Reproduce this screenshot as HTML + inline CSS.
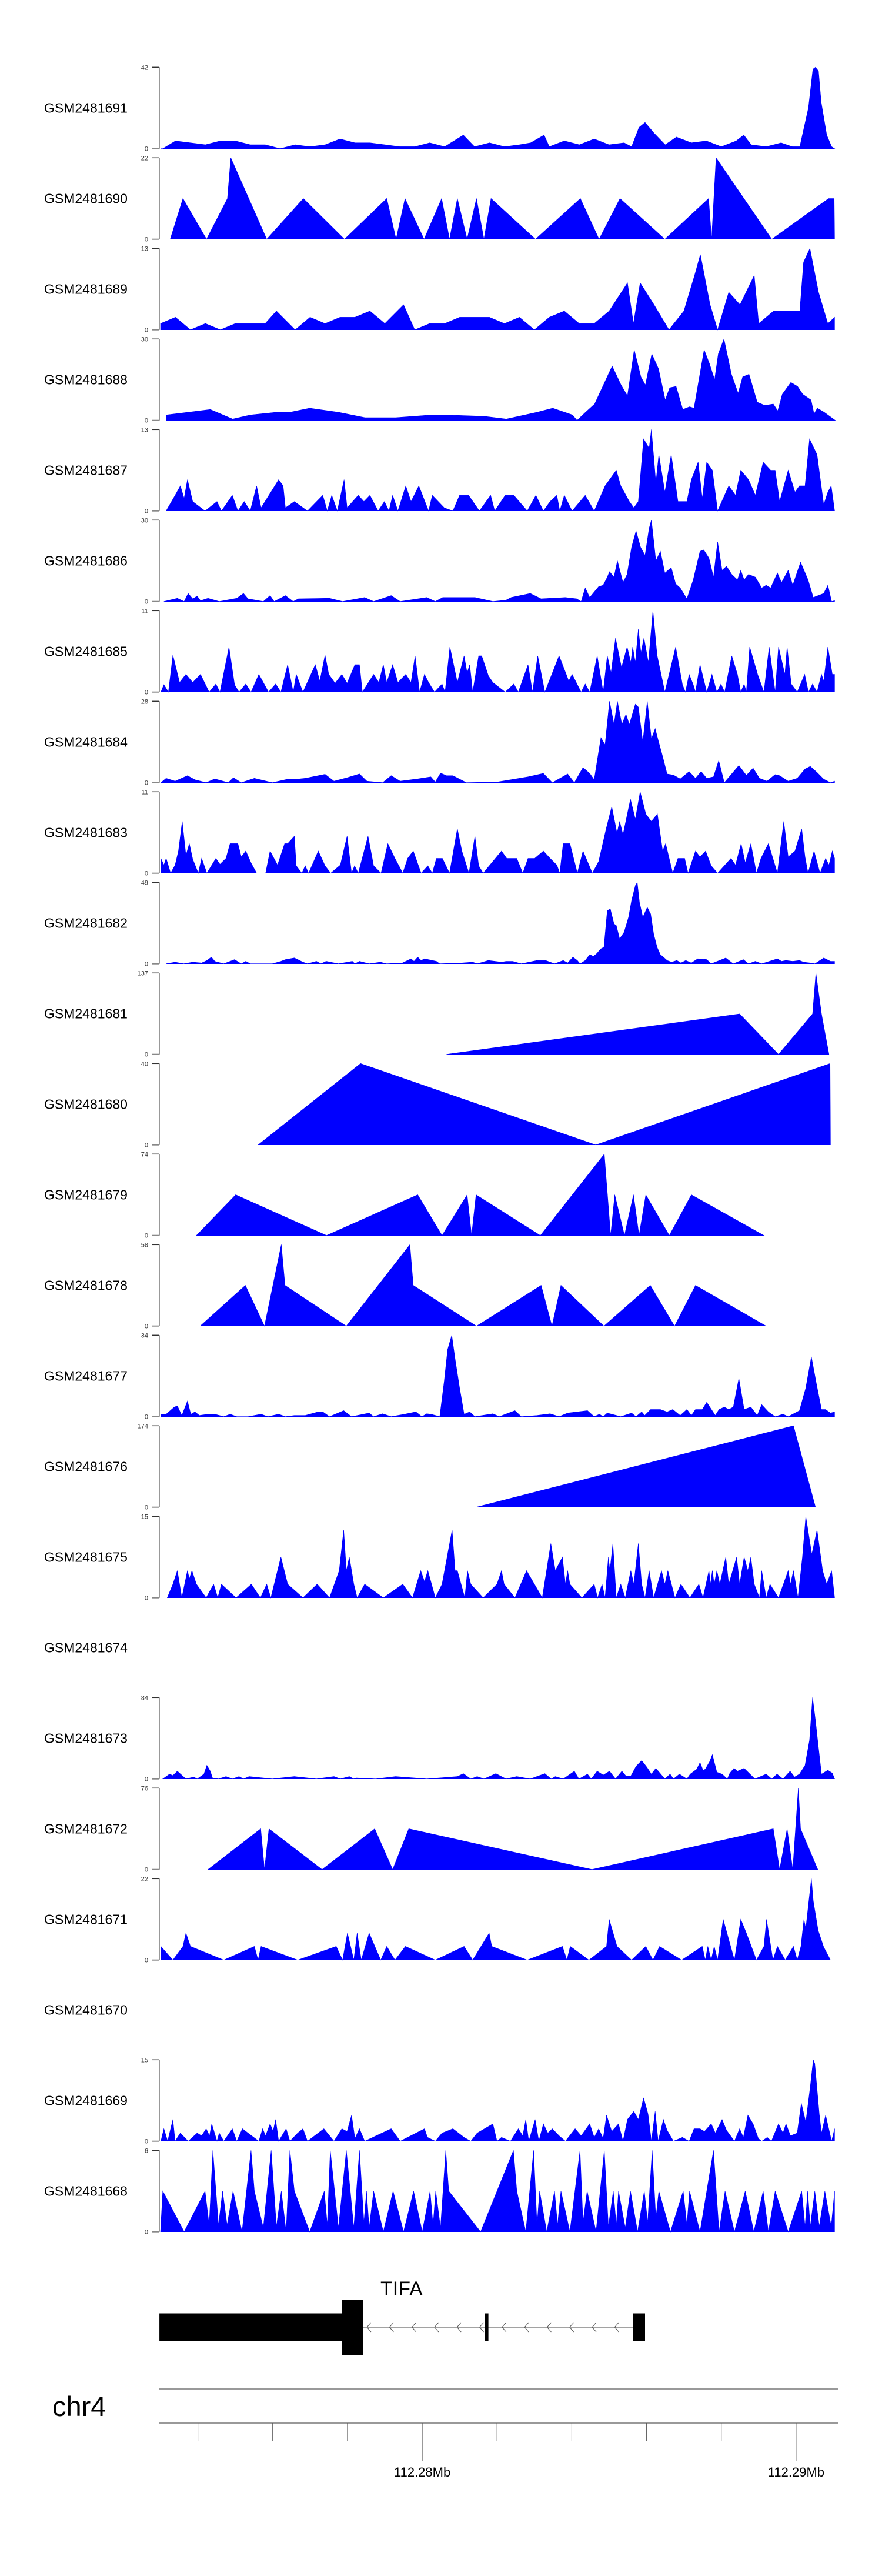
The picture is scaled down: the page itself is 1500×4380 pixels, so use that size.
<!DOCTYPE html>
<html>
<head>
<meta charset="utf-8">
<style>
html,body{margin:0;padding:0;background:#fff;}
svg{display:block;font-family:"Liberation Sans",Arial,sans-serif;}
</style>
</head>
<body>
<svg id="chart" width="1500" height="4380" viewBox="0 0 1500 4380" xmlns="http://www.w3.org/2000/svg">
<rect x="0" y="0" width="1500" height="4380" fill="#ffffff"/>
<g id="tracks"></g>
<g id="gene"></g>
<g id="ruler"></g>
</svg>
<script>
// ---- chart data (positions in kb from region start 112,273.0 kb) ----
const samples = ["GSM2481691","GSM2481690","GSM2481689","GSM2481688","GSM2481687","GSM2481686","GSM2481685","GSM2481684","GSM2481683","GSM2481682","GSM2481681","GSM2481680","GSM2481679","GSM2481678","GSM2481677","GSM2481676","GSM2481675","GSM2481674","GSM2481673","GSM2481672","GSM2481671","GSM2481670","GSM2481669","GSM2481668"];
const yMax = [42,22,13,30,13,30,11,28,11,49,137,40,74,58,34,174,15,null,84,76,22,null,15,6];
const regionStartKb = 112273.0;
const regionEndKb = 112291.04;
const axisTicksKb = [112274,112276,112278,112280,112282,112284,112286,112288,112290];
const axisLabels = ["112.28Mb","112.29Mb"];
const axisLabelKb = [112280,112290];

const pos1691=[0,0.06,0.4,0.8,1.2,1.6,2.0,2.4,2.8,3.2,3.6,4.0,4.4,4.8,5.2,5.6,6.0,6.4,6.8,7.2,7.6,8.1,8.4,8.8,9.2,9.6,9.9,10.26,10.4,10.8,11.2,11.6,12.0,12.4,12.6,12.8,12.96,13.2,13.5,13.8,14.2,14.6,15.0,15.4,15.6,15.8,16.2,16.6,16.9,17.1,17.33,17.45,17.52,17.6,17.67,17.82,17.95,18.03];
const val1691=[0,0,4,3,2,4,4,2,2,0,2,1,2,5,3,3,2,1,1,3,1,7,1,3,1,2,3,7,1,4,2,5,2,3,1,11,13.5,8,2,6,3,4,1,4,7,2,1,3,1,1,21,41,42,40,24,7,1,0];

const pos1690=[0.26,0.6,1.23,1.79,1.88,2.84,3.82,4.92,6.05,6.3,6.54,7.05,7.52,7.73,7.94,8.2,8.45,8.65,8.84,10.03,11.23,11.73,12.29,13.49,14.66,14.74,14.86,16.35,17.87,18.02,18.03];
const val1690=[0,11,0,11,22,0,11,0,11,0,11,0,11,0,11,0,11,0,11,0,11,0,11,0,11,0,22,0,11,11,0];

const pos1689=[0,0.4,0.8,1.2,1.6,2.0,2.4,2.8,3.1,3.6,4.0,4.4,4.8,5.2,5.6,6.0,6.5,6.8,7.2,7.6,8.0,8.4,8.8,9.2,9.6,10.0,10.4,10.8,11.2,11.6,12.0,12.49,12.65,12.83,13.2,13.6,14.0,14.3,14.44,14.7,14.9,15.2,15.5,15.88,16.0,16.4,16.8,17.1,17.2,17.37,17.6,17.85,18.03];
const val1689=[1,2,0,1,0,1,1,1,3,0,2,1,2,2,3,1,4,0,1,1,2,2,2,1,2,0,2,3,1,1,3,7.5,1,7.5,4,0,3,9,12,4,0,6,4,8.7,1,3,3,3,10.8,13,6,1,2];

const pos1688=[0.15,0.74,1.33,1.93,2.4,3.1,3.46,3.99,4.76,5.47,6.29,7.24,7.59,8.66,9.25,10.07,10.49,11.02,11.14,11.37,11.61,12.08,12.32,12.49,12.67,12.85,12.97,13.14,13.32,13.5,13.62,13.79,13.97,14.15,14.27,14.54,14.68,14.82,14.92,15.07,15.27,15.45,15.57,15.74,15.96,16.16,16.39,16.51,16.63,16.86,17.04,17.18,17.4,17.48,17.57,17.75,18.05];
const val1688=[2,3,4,0.5,2,3,3,4.5,3,1,1,2,2,1.5,0.5,3,4.5,2,0,3,6,20,13,9,26,16,13,24.5,19,7.5,12,12.5,4,5,4.5,26,21,15,24.5,30,17,10,16,17,6.7,5.5,6,3.5,9.6,14,12.5,9.6,7.5,2.4,4.5,3,0];

const pos1687=[0.15,0.39,0.53,0.63,0.72,0.86,1.19,1.51,1.63,1.92,
2.07,2.24,2.4,2.57,2.69,3.16,3.28,3.34,3.58,3.93,
4.34,4.46,4.58,4.73,4.91,4.99,5.29,5.44,5.6,5.82,
5.99,6.11,6.21,6.35,6.56,6.7,6.91,7.17,7.27,7.59,
7.82,8,8.24,8.53,8.83,8.94,9.22,9.45,9.81,10.04,
10.24,10.42,10.6,10.68,10.8,11.01,11.36,11.6,11.89,12.19,
12.31,12.54,12.66,12.78,12.92,13.07,13.13,13.25,13.33,13.49,
13.66,13.84,14.08,14.2,14.38,14.49,14.61,14.76,14.9,15.2,
15.38,15.52,15.73,15.91,16.12,16.32,16.44,16.56,16.79,16.97,
17.09,17.24,17.36,17.56,17.74,17.85,17.94,18.03];
const val1687=[0,2.5,4,2,5,1.5,0,1.5,0,2.5,
0,1.5,0,4,0.5,5,4,0.5,1.5,0,
2.5,0,2.5,0,5,0.5,2.5,1.5,2.5,0,
1.5,0,2.5,0,4,1.5,4,0,2.5,0.5,
0,2.5,2.5,0,2.5,0,2.5,2.5,0,2.5,
0,1.5,2.5,0,2.5,0,2.5,0,4,6.5,
4,1.5,0.5,1.5,11.5,10,13,4.5,9,3,
9,1.5,1.5,5,7.8,2,7.8,6.5,0,4,
2.5,6.5,5,2.5,7.8,6.5,6.5,1.5,6.5,3,
4,4,11.5,9,1,3,4,0];

const pos1686=[0.09,0.45,0.63,0.74,0.86,0.98,1.07,1.27,1.57,2.04,
2.22,2.34,2.75,2.93,3.04,3.34,3.55,3.69,4.52,4.87,
5.46,5.7,6.17,6.41,7.12,7.35,7.55,7.94,8.41,8.89,
9.24,9.38,9.89,10.18,10.83,11.13,11.25,11.36,11.48,11.72,
11.84,11.95,12.01,12.13,12.22,12.37,12.48,12.6,12.72,12.84,
12.96,13.07,13.13,13.25,13.37,13.49,13.66,13.78,13.9,14.08,
14.25,14.43,14.53,14.67,14.79,14.9,15.02,15.14,15.28,15.43,
15.52,15.61,15.73,15.91,16.08,16.2,16.32,16.5,16.61,16.79,
16.91,17.12,17.32,17.46,17.74,17.85,17.95,18.03];
const val1686=[0,1.2,0,3,1,2,0.3,1.2,0,1.2,
3,1,0,2.2,0,2.2,0,1,1.2,0,
1.5,0,2.2,0,1.5,0,1.5,1.5,1.5,0,
0.5,1.5,3,1,1.5,1,0,5,1.5,5.5,
6,9,11,9,15,7,10,20,26,20,
17,27,30,15,18.5,10.5,12.5,6.5,5,1,
8,18.5,19,16,9,22,11.5,13,10,8,
11.5,8,10,9,5,6,5,10.5,7,11.5,
6,14.5,8,1.5,3,6,0,0.3];

const pos1685=[0.01,0.09,0.21,0.33,0.51,0.68,0.86,1.07,1.3,1.48,
1.59,1.83,1.98,2.1,2.28,2.42,2.63,2.89,3.08,3.22,
3.4,3.55,3.63,3.81,4.14,4.26,4.4,4.5,4.67,4.85,
4.99,5.2,5.32,5.4,5.7,5.84,5.96,6.05,6.21,6.35,
6.56,6.7,6.81,6.93,7.06,7.17,7.33,7.53,7.61,7.74,
7.94,8.12,8.2,8.27,8.35,8.51,8.59,8.77,8.89,9.22,
9.45,9.57,9.83,9.95,10.09,10.28,10.66,10.92,11.01,11.25,
11.36,11.48,11.68,11.84,11.95,12.05,12.17,12.33,12.48,12.58,
12.63,12.7,12.78,12.85,12.93,13.05,13.17,13.28,13.49,13.78,
13.96,14.04,14.14,14.25,14.31,14.43,14.61,14.75,14.88,14.99,
15.09,15.28,15.43,15.52,15.61,15.67,15.76,15.97,16.14,16.28,
16.44,16.53,16.7,16.76,16.87,17.03,17.23,17.33,17.44,17.56,
17.68,17.74,17.85,17.97,18.03];
const val1685=[0,1,0,5,1.3,2.4,1.3,2.4,0,1.1,
0,6.1,1,0,1.1,0,2.4,0,1.1,0,
3.7,0,2.4,0,3.7,1.5,5,2.4,1.2,2.4,
1.2,3.7,3.7,0,2.4,1.3,3.7,1.3,3.7,1.3,
2.4,1.3,4.9,0,2.4,1.3,0,1.1,0,6.1,
1.3,4.9,2.6,3.7,0,4.9,4.9,2.2,1.3,0,
1.1,0,3.7,0,4.9,0,4.9,1.5,2.4,0,
1.1,0,4.9,0,4.9,2.6,7.3,3.3,6.1,4,
6.1,4,8.5,5.3,7.3,4,11,5,0,6.1,
1,0,2.4,1,0,3.7,0,2.4,0,1.1,
0,4.9,2.4,0,1.1,0,6.1,2.4,0,6.1,
0,6.1,2.4,6.1,1.1,0,2.4,0,1.1,0,
2.4,1.5,6.1,2.4,2.4];

const pos1684=[0.01,0.15,0.39,0.72,0.92,1.22,1.45,1.81,1.95,2.16,
2.51,2.99,3.4,3.63,3.87,4.4,4.64,4.99,5.32,5.52,
5.94,6.17,6.41,6.88,7.23,7.35,7.49,7.65,7.82,8.18,
9.0,9.83,10.24,10.48,10.89,11.07,11.3,11.48,11.6,11.78,
11.89,12.01,12.13,12.22,12.34,12.45,12.54,12.7,12.78,12.9,
13.02,13.13,13.23,13.31,13.43,13.55,13.72,13.9,14.14,14.31,
14.46,14.61,14.79,14.93,15.08,15.47,15.67,15.85,16.02,16.22,
16.44,16.56,16.79,17.03,17.24,17.38,17.56,17.74,17.92,18.03];
const val1684=[0,1.5,0.5,2.4,1,0,1.3,0,1.7,0,
1.5,0,1.2,1.2,1.5,2.9,0.5,1.7,3,0.5,
0,2.4,0.5,1.3,2,0.2,3.3,2.4,2.4,0,
0.2,2,3.2,0,3,0,5.2,3.2,1,15.5,
13,28,20,28,20,23.5,20,27,26,14,
28,15,18.6,14.6,9,3,2.6,1.3,3.8,1.5,
3.8,1.5,2,7.6,0,5.9,2.5,5,1.5,0.5,
2.8,2.4,0.5,1.5,4.7,5.6,3.5,1.2,0,0.5];

const pos1683=[0.01,0.09,0.15,0.27,0.39,0.48,0.58,0.68,0.77,0.86,
1.01,1.1,1.24,1.48,1.59,1.75,1.86,1.96,2.07,2.16,
2.28,2.42,2.57,2.81,2.93,3.13,3.32,3.4,3.58,3.63,
3.78,3.87,3.96,4.22,4.4,4.55,4.81,4.99,5.11,5.19,
5.29,5.55,5.7,5.9,6.08,6.27,6.48,6.61,6.76,6.97,
7.15,7.27,7.38,7.54,7.73,7.94,8.06,8.25,8.41,8.51,
8.63,9.12,9.26,9.53,9.69,9.83,10.01,10.24,10.42,10.6,
10.68,10.77,10.95,11.15,11.3,11.55,11.72,11.92,12.07,12.21,
12.28,12.37,12.57,12.7,12.83,12.98,13.13,13.29,13.43,13.51,
13.7,13.84,14.02,14.11,14.31,14.43,14.58,14.73,14.9,15.26,
15.38,15.53,15.64,15.79,15.94,16.06,16.26,16.5,16.67,16.79,
16.97,17.15,17.24,17.32,17.48,17.64,17.79,17.88,17.97,18.03];
const val1683=[2,1.1,2,0,1.1,3,7,2.4,4,1.9,
0,2,0,2,1.2,2,4,4,4,2.2,
3,1.4,0,0,3,1.1,4,4,5,1,
0,1,0,3,1,0,1.1,5,0,1,
0,5,1,0,4,2,0,2,3,0,
1,0,2,2,0,6,3,0,5,1,
0,3,2,2,0,2,2,3,2,1.1,
0,4,4,0,3,0,1.6,6,9,5.4,
7,5.2,10,7.3,11,8,7,8,3,4,
0,2,2,0,3,2.2,3,1,0,2,
1.1,4,1.4,4,0,2,4,0,7,2.2,
3,6,2.2,0,3,0,2,1.1,3,2];

const pos1682=[0.15,0.39,0.62,0.86,1.1,1.24,1.36,1.45,1.69,1.98,
2.16,2.28,2.4,2.99,3.22,3.34,3.58,3.81,3.93,4.17,
4.29,4.43,4.76,5.13,5.2,5.32,5.58,5.88,6.05,6.47,
6.7,6.78,6.88,6.97,7.06,7.38,7.47,8.06,8.35,8.47,
8.77,9.12,9.24,9.42,9.65,10.07,10.3,10.54,10.77,10.89,
11.03,11.15,11.22,11.36,11.48,11.58,11.66,11.78,11.86,11.95,
12.03,12.13,12.19,12.28,12.4,12.52,12.6,12.7,12.75,12.81,
12.9,13.02,13.11,13.19,13.28,13.37,13.45,13.55,13.67,13.81,
13.92,14.05,14.2,14.37,14.61,14.73,15.12,15.32,15.59,15.73,
15.91,16.08,16.5,16.61,16.73,16.91,17.09,17.2,17.38,17.5,
17.74,17.92,18.03];
const val1682=[0,1,0,1,0.5,2,4,1.5,0,2.5,
0,1.5,0,0,1.5,2.5,3.5,1,0,1.5,
0,1.5,0,1.5,0,1.5,0,1,0,0.5,
3,1.5,4,2,3,1.5,0,0.5,1,0,
2,1,1.5,1.5,0,2,2,0,2,0.5,
4,2,0,2,5.5,4.5,6,9,10,32,
33,24,23,15,19,28,38,47,49,37,
28,34,30,18,10,5.5,4,2,1,2,
0.5,2,0.5,3,2.5,0,3.5,0,2.5,0,
1.5,0,3,1.5,2,1.5,2,1,0.5,0,
3.5,1.5,1.5];

const pos1681=[7.65,15.49,16.53,17.44,17.53,17.68,17.88];
const val1681=[0,68,0,68,137,68,0];

const pos1680=[2.61,5.35,11.64,17.91,17.92];
const val1680=[0,40,0,40,0];

const pos1679=[0.96,2.01,4.44,6.88,7.53,8.2,8.32,8.44,10.16,11.87,12.04,12.15,12.41,12.65,12.8,12.98,13.61,14.2,16.14];
const val1679=[0,37,0,37,0,37,0,37,0,74,0,37,0,37,0,37,0,37,0];

const pos1678=[1.06,2.27,2.78,3.23,3.33,4.97,6.67,6.76,8.45,10.18,10.47,10.71,11.86,13.1,13.75,14.31,16.2];
const val1678=[0,29,0,58,29,0,58,29,0,29,0,29,0,29,0,29,0];

const pos1677=[0.01,0.15,0.37,0.45,0.57,0.72,0.81,0.92,1.04,1.27,
1.45,1.69,1.86,2.04,2.34,2.69,2.87,3.16,3.34,3.58,
3.87,4.22,4.34,4.52,4.9,5.11,5.58,5.7,5.94,6.17,
6.53,6.83,6.99,7.12,7.23,7.47,7.59,7.68,7.79,7.88,
8.0,8.12,8.27,8.41,8.89,9.06,9.48,9.65,10.07,10.42,
10.66,10.89,11.42,11.6,11.74,11.84,11.95,12.31,12.6,12.72,
12.87,12.95,13.11,13.37,13.55,13.7,13.9,14.08,14.2,14.31,
14.49,14.61,14.84,14.94,15.08,15.2,15.32,15.47,15.61,15.79,
15.96,16.08,16.26,16.44,16.65,16.79,17.09,17.26,17.41,17.54,
17.68,17.79,17.92,18.03];
const val1677=[1,1,4,4.5,0.5,6.5,1,2,0.5,1,
1,0,1,0,0,1,0,1,0,0.5,
0.5,2,2,0,2.5,0,1.5,0,1.2,0,
1,2,0,1.2,1,0,15,28,34,24,
12,1,2,0,1.2,0,2.5,0,0.5,1.2,
0,1.5,2.5,0,1,0,1.5,0,1.5,0,
2,0.5,3,3,2,3,0.5,3,0.5,3,
3,6,0.5,3,4,3,4,16,3,4,
0.5,5,2,0,1,0,2.5,12,25,14,
3,3,1.5,2];

const pos1676=[8.44,16.93,17.52];
const val1676=[0,174,0];

const pos1675=[0.18,0.33,0.45,0.57,0.72,0.77,0.84,0.96,1.22,1.42,
1.53,1.63,2.02,2.43,2.67,2.84,2.95,3.22,3.4,3.81,
4.19,4.52,4.78,4.9,4.97,5.05,5.17,5.26,5.46,5.96,
6.48,6.74,6.96,7.06,7.15,7.35,7.53,7.8,7.88,7.94,
8.14,8.21,8.3,8.63,9.0,9.12,9.19,9.48,9.79,10.21,
10.44,10.56,10.75,10.83,10.89,10.95,11.27,11.6,11.69,11.81,
11.89,11.98,12.02,12.1,12.19,12.31,12.43,12.58,12.66,12.78,
12.87,12.96,13.07,13.19,13.4,13.49,13.57,13.76,13.92,14.16,
14.4,14.51,14.67,14.71,14.76,14.81,14.88,14.96,15.12,15.2,
15.41,15.49,15.61,15.71,15.79,15.88,16.02,16.08,16.2,16.3,
16.53,16.79,16.85,16.93,17.05,17.17,17.26,17.42,17.56,17.71,
17.82,17.95,18.03];
const val1675=[0,2.5,5,0,5,3.5,5,2.5,0,2.5,
0,2.5,0,2.5,0,2.5,0,7.5,2.5,0,
2.5,0,5,12.5,5,7.5,2.5,0,2.5,0,
2.5,0,5,3,5,0,2.5,12.5,5,5,
0,5,2.5,0,2.5,5,2.5,0,5,0,
10,5,7.5,2.5,5,2.5,0,2.5,0,2.5,
0,7.5,5,10,0,2.5,0,5,2.5,10,
2.5,0,5,0,5,2.5,5,0,2.5,0,
2.5,0,5,2.5,5,2.5,5,2.5,7.5,2.5,
7.5,2.5,7.5,5,7.5,2.5,0,5,0,2.5,
0,5,2.5,5,0,7.5,15,8,12.5,5,
2.5,5,0];

const pos1674=[];
const val1674=[];

const pos1673=[0.06,0.24,0.33,0.45,0.68,0.89,0.98,1.16,1.24,1.33,
1.39,1.55,1.75,1.92,2.1,2.22,2.37,2.99,3.58,4.17,
4.64,4.81,5.05,5.17,5.23,5.76,6.29,7.12,7.94,8.1,
8.3,8.47,8.65,8.97,9.24,9.53,9.89,10.28,10.45,10.56,
10.77,11.07,11.19,11.42,11.52,11.68,11.84,12.01,12.17,12.34,
12.45,12.58,12.72,12.87,13.01,13.13,13.25,13.49,13.63,13.72,
13.88,14.08,14.17,14.34,14.43,14.51,14.57,14.69,14.76,14.88,
15.02,15.16,15.23,15.34,15.43,15.61,15.9,16.2,16.35,16.49,
16.65,16.84,16.96,17.09,17.24,17.36,17.44,17.52,17.59,17.68,
17.85,17.97,18.03];
const val1673=[0,5,3.5,8,0,2,0,5,14,8,
1,0,2.5,0,2.5,0,2.5,0,2.5,0,
2.5,0,2.5,0,1,0,2.5,0,2.5,5.5,
0,2.5,0,5.5,0,2.5,0,5.5,0,2.5,
0,8,0,5,0,8,4,8,0,8,
3,3,13,19,12,5,11,0,5,0,
5,0,5,10,17,9,10,18,25,7,
5,0,6,11,8,11,0,5,0,5,
0,8,2,5,14,40,84,60,35,5,
9,6,0];

const pos1672=[1.27,2.68,2.78,2.9,4.32,5.73,6.21,6.64,11.54,16.39,16.56,16.76,16.91,17.06,17.12,17.58];
const val1672=[0,38,0,38,0,38,0,38,0,38,0,38,0,76,38,0];

const pos1671=[0.01,0.33,0.6,0.68,0.8,1.69,2.51,2.61,2.69,3.67,
4.7,4.87,5.0,5.17,5.26,5.37,5.58,5.89,6.05,6.27,
6.55,7.35,8.12,8.35,8.79,8.86,9.81,10.75,10.87,10.96,
11.46,11.93,12.0,12.21,12.6,12.98,13.17,13.35,13.94,14.49,
14.57,14.64,14.73,14.81,14.9,15.05,15.35,15.52,15.67,15.94,
16.14,16.21,16.38,16.5,16.71,16.93,17.03,17.13,17.21,17.26,
17.41,17.46,17.59,17.74,17.92];
const val1671=[3.7,0,3.7,7.3,3.7,0,3.7,0,3.7,0,
3.7,0,7.3,0,7.3,0,7.3,0,3.7,0,
3.7,0,3.7,0,7.3,3.7,0,3.7,0,3.7,
0,3.7,11,3.7,0,3.7,0,3.7,0,3.7,
0,3.7,0,3.7,0,11,0,11,7.3,0,
3.7,11,0,3.7,0,3.7,0,3.7,11,8.5,
22,16,8,3.5,0];

const pos1670=[];
const val1670=[];

const pos1669=[0.01,0.09,0.19,0.33,0.39,0.53,0.74,0.98,1.1,1.22,
1.31,1.37,1.51,1.57,1.69,1.92,2.04,2.19,2.34,2.63,
2.73,2.81,2.93,3.01,3.08,3.16,3.36,3.46,3.67,3.81,
3.93,4.37,4.64,4.85,4.99,5.11,5.2,5.32,5.46,6.17,
6.41,7.06,7.14,7.35,7.53,7.82,8.12,8.3,8.47,8.89,
9.0,9.12,9.36,9.57,9.69,9.77,9.85,10.02,10.12,10.24,
10.36,10.48,10.66,10.83,11.09,11.25,11.48,11.6,11.72,11.84,
11.93,12.07,12.25,12.37,12.49,12.66,12.78,12.92,13.04,13.13,
13.23,13.31,13.45,13.55,13.72,13.96,14.14,14.27,14.43,14.55,
14.73,14.84,15.02,15.14,15.35,15.49,15.59,15.71,15.85,15.99,
16.08,16.23,16.34,16.53,16.65,16.73,16.85,17.03,17.14,17.26,
17.38,17.46,17.5,17.62,17.68,17.79,17.95,18.03];
const val1669=[0,2.3,0,4,0,1.5,0,1.5,1,2.3,
1,3.2,0,1.5,0,2.3,0,2.3,1.5,0,
2.3,1,3.2,1.8,4,0,2.3,0,1.5,2.3,
0,2.3,0,2.3,1.8,4.8,0.5,2.3,0,2.3,
0,2.3,0.7,0,1.5,2.3,0.7,0,1.5,3.2,
0,0.7,0,2.3,1,4,0,4,0,3.2,
1.5,2.3,1,0,2.3,1,3.2,0.7,2.3,0.5,
4.8,1.8,3.2,0,4,5.5,4,8,5,0,
5.5,0,4,2,0,0.7,0,2.3,2.3,1.8,
3.2,1.5,4,2,0,2.3,0.7,4.8,3.2,0.5,
0,0.7,0,3.2,1.5,3.2,1,1.5,7,3.5,
10,15,14.3,5,1.5,4.8,0,2.3];

const pos1668=[0,0.06,0.63,1.19,1.3,1.4,1.55,1.66,1.78,1.94,
2.18,2.42,2.51,2.75,2.96,3.1,3.23,3.36,3.46,3.58,
3.99,4.38,4.46,4.54,4.76,4.97,5.17,5.32,5.44,5.51,
5.58,5.7,5.96,6.22,6.5,6.77,7.0,7.21,7.29,7.36,
7.49,7.63,7.71,8.56,9.44,9.53,9.77,9.98,10.07,10.14,
10.33,10.54,10.62,10.71,10.95,11.22,11.3,11.41,11.65,11.87,
11.98,12.11,12.19,12.25,12.43,12.57,12.76,12.94,13.03,13.15,
13.25,13.33,13.64,13.98,14.08,14.15,14.43,14.79,14.94,15.1,
15.35,15.64,15.87,16.12,16.26,16.44,16.79,17.15,17.24,17.31,
17.38,17.5,17.62,17.77,17.94,18.03];
const val1668=[0,3,0,3,0.5,6,0.5,3,0.5,3,
0,6,3,0.3,6,0.4,3,0,6,3,
0,3,0.5,6,0.3,6,0.3,6,0.7,3,
0.3,3,0,3,0,3,0,3,0.5,3,
0.3,6,3,0,6,3,0,6,0.5,3,
0,3,0.5,3,0,6,0.7,3,0,6,
0.4,3,0.5,3,0.3,3,0,3,0.7,6,
1,3,0,3,0.5,3,0,6,0,3,
0,3,0,3,0,3,0,3,0.4,3,
0.4,3,0.4,3,0.4,3];

const positions=[pos1691,pos1690,pos1689,pos1688,pos1687,pos1686,pos1685,pos1684,pos1683,pos1682,pos1681,pos1680,pos1679,pos1678,pos1677,pos1676,pos1675,pos1674,pos1673,pos1672,pos1671,pos1670,pos1669,pos1668];
const values=[val1691,val1690,val1689,val1688,val1687,val1686,val1685,val1684,val1683,val1682,val1681,val1680,val1679,val1678,val1677,val1676,val1675,val1674,val1673,val1672,val1671,val1670,val1669,val1668];

// gene model (kb offsets from region start)
const exonStarts=[-0.03,4.86,8.68,12.63];
const exonEnds=[5.41,5.41,8.77,12.96];
const exonTall=[false,true,false,false];
const intronStart=5.41, intronEnd=12.63;

// ---- layout ----
const NS="http://www.w3.org/2000/svg";
const plotLeft=273, plotRight=1420;
const firstTop=114.3, pitch=154, trackH=138.4;
function xScale(kbOffset){return plotLeft+kbOffset*(plotRight-plotLeft)/(regionEndKb-regionStartKb);}
function xGenome(kb){return xScale(kb-regionStartKb);}
function mk(tag,attrs,parent){const e=document.createElementNS(NS,tag);for(const k in attrs)e.setAttribute(k,attrs[k]);parent.appendChild(e);return e;}

const tracksG=document.getElementById('tracks');
for(let i=0;i<samples.length;i++){
  const top=firstTop+i*pitch, base=top+trackH;
  const g=mk('g',{},tracksG);
  
  
  const lab=mk('text',{x:75,y:(top+trackH/2+8).toFixed(1),'font-size':23,fill:'#000'},g);
  lab.textContent=samples[i];
  
  
  const mx=yMax[i];
  if(mx===null) continue;
  const ax=mk('line',{x1:271,y1:top,x2:271,y2:base,stroke:'#999',"stroke-width":2},g);
  
  
  const t1=mk('line',{x1:259,y1:top,x2:271,y2:top,stroke:'#333',"stroke-width":1.5},g);
  
  
  const t0=mk('line',{x1:259,y1:base,x2:271,y2:base,stroke:'#888',"stroke-width":2},g);
  
  
  const lt=mk('text',{x:252,y:(top+4).toFixed(1),'font-size':11,'text-anchor':'end',fill:'#333'},g);
  lt.textContent=String(mx);
  
  
  const lz=mk('text',{x:252,y:(base+4).toFixed(1),'font-size':11,'text-anchor':'end',fill:'#333'},g);
  lz.textContent='0';
  
  
  const P=positions[i], V=values[i];
  const n=Math.min(P.length,V.length);
  if(n<2) continue;
  const yScale=v=>base-Math.max(0,Math.min(v,mx))/mx*trackH;
  const clampX=x=>Math.max(plotLeft,Math.min(plotRight+3,x));
  let pts=[clampX(xScale(P[0])).toFixed(1)+','+base.toFixed(1)];
  for(let k=0;k<n;k++) pts.push(clampX(xScale(P[k])).toFixed(1)+','+yScale(V[k]).toFixed(1));
  pts.push(clampX(xScale(P[n-1])).toFixed(1)+','+base.toFixed(1));
  const area=mk('polygon',{points:pts.join(' '),fill:'#0000ff',stroke:'#0000ff','stroke-width':0.6,'stroke-linejoin':'miter'},g);
  
  
}

// ---- gene track ----
const geneG=document.getElementById('gene');
const lineY=3957;
const intr=mk('line',{x1:xScale(intronStart),y1:lineY,x2:xScale(intronEnd),y2:lineY,stroke:'#444','stroke-width':1},geneG);


for(let x=xScale(intronStart)+10;x<xScale(intronEnd)-4;x+=38.3){
  const ch=mk('path',{d:`M${(x+4).toFixed(1)},${lineY-8} L${(x-3).toFixed(1)},${lineY} L${(x+4).toFixed(1)},${lineY+8}`,fill:'none',stroke:'#555','stroke-width':1},geneG);
  
  
}
for(let e=0;e<exonStarts.length;e++){
  const x1=xScale(exonStarts[e]), x2=xScale(exonEnds[e]);
  const y1=exonTall[e]?3910.6:3933.5, y2=exonTall[e]?4004:3981;
  const r=mk('rect',{x:x1.toFixed(1),y:y1,width:Math.max(2,x2-x1).toFixed(1),height:(y2-y1).toFixed(1),fill:'#000'},geneG);
  
  
}
const gl=mk('text',{x:647,y:3903,'font-size':34,fill:'#000'},geneG);
gl.textContent='TIFA';



// ---- genome axis ----
const rG=document.getElementById('ruler');
const chr=mk('text',{x:89,y:4108,'font-size':47,fill:'#000'},rG);
chr.textContent='chr4';


const l1=mk('line',{x1:271,y1:4062,x2:1425,y2:4062,stroke:'#999','stroke-width':3},rG);


const l2=mk('line',{x1:271,y1:4120,x2:1425,y2:4120,stroke:'#999','stroke-width':2},rG);


for(let t=0;t<axisTicksKb.length;t++){
  const x=xGenome(axisTicksKb[t]);
  const major=axisLabelKb.indexOf(axisTicksKb[t])>=0;
  const tk=mk('line',{x1:x.toFixed(1),y1:4120,x2:x.toFixed(1),y2:major?4185:4150,stroke:'#555','stroke-width':1},rG);
  
  
}
for(let t=0;t<axisLabels.length;t++){
  const tl=mk('text',{x:xGenome(axisLabelKb[t]).toFixed(1),y:4211,'font-size':22,'text-anchor':'middle',fill:'#000'},rG);
  tl.textContent=axisLabels[t];
  
  
}
</script>
</body>
</html>
